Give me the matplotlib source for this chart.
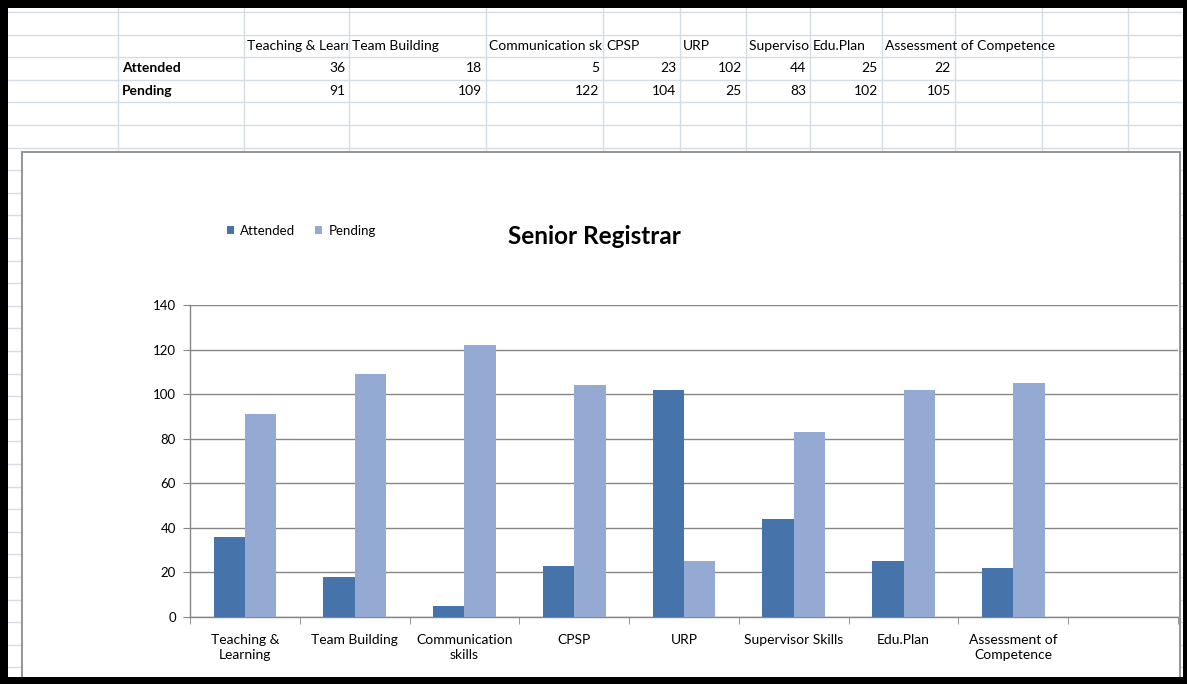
import numpy as np
import matplotlib
matplotlib.use("Agg")
import matplotlib.pyplot as plt
from matplotlib.patches import Rectangle
from matplotlib.transforms import Bbox, TransformedBbox

plt.rcParams['font.family'] = ['Lato', 'DejaVu Sans']

# data
categories = ['Teaching &\nLearning', 'Team Building', 'Communication\nskills', 'CPSP',
              'URP', 'Supervisor Skills', 'Edu.Plan', 'Assessment of\nCompetence']
series_names = ['Attended', 'Pending']
attended = [36, 18, 5, 23, 102, 44, 25, 22]
pending = [91, 109, 122, 104, 25, 83, 102, 105]

W, H = 1187, 684
DARK = '#4673A9'
LIGHT = '#94AAD2'
GRID = '#868686'
SHEET = '#D4DCE8'

fig = plt.figure(figsize=(W / 100, H / 100), dpi=100)

# spreadsheet behind the chart, drawn in pixel coords
bg = fig.add_axes([0, 0, 1, 1])
bg.set_xlim(0, W)
bg.set_ylim(H, 0)
bg.axis('off')

col_edges = [118, 244, 349, 486, 603, 680, 746, 810, 882, 955, 1042, 1128]
row_edges = np.arange(12, H, 22.6)
for y in row_edges:
    bg.plot([0, W], [y, y], color=SHEET, lw=1, zorder=1)
for x in col_edges:
    bg.plot([x, x], [0, H], color=SHEET, lw=1, zorder=1)

header_y, att_y, pen_y = 46, 68.5, 91
cell_fs = 10
bg.text(122, att_y, series_names[0], fontsize=cell_fs, fontweight='bold', va='center', zorder=2)
bg.text(122, pen_y, series_names[1], fontsize=cell_fs, fontweight='bold', va='center', zorder=2)
for i, cat in enumerate(categories):
    left, right = col_edges[i + 1], col_edges[i + 2]
    t = bg.text(left + 3, header_y, cat.replace('\n', ' '), fontsize=cell_fs,
                va='center', zorder=2)
    t.set_clip_path(None)
    if i < len(categories) - 1:
        # excel cuts a header off where the next cell holds text
        box = Bbox.from_extents(left / W, 1 - (header_y + 12) / H,
                                (right - 1) / W, 1 - (header_y - 12) / H)
        t.set_clip_box(TransformedBbox(box, fig.transFigure))
        t.set_clip_on(True)
    else:
        t.set_clip_on(False)
    bg.text(right - 4, att_y, str(attended[i]), fontsize=cell_fs, ha='right', va='center', zorder=2)
    bg.text(right - 4, pen_y, str(pending[i]), fontsize=cell_fs, ha='right', va='center', zorder=2)

# chart area
bg.add_patch(Rectangle((22, 152), 1158, 600, facecolor='white', edgecolor='#8C8C8C',
                       lw=1.3, zorder=3))

# black frame of the screenshot
for r in [(0, 0, W, 8), (0, 0, 8, H), (1183, 0, 4, H), (0, 677, W, 7)]:
    bg.add_patch(Rectangle(r[:2], r[2], r[3], facecolor='black', edgecolor='none', zorder=10))

# chart
ax = fig.add_axes([190 / W, 1 - 617 / H, 988 / W, 312 / H])
ax.patch.set_alpha(0)

x = np.arange(len(categories))
w = 1 / 3.5
ax.bar(x - w / 2, attended, w, color=DARK, label=series_names[0], zorder=3)
ax.bar(x + w / 2, pending, w, color=LIGHT, label=series_names[1], zorder=3)

ax.set_xlim(-0.5, len(categories) + 0.5)
ax.set_ylim(0, 140)
ax.set_yticks(np.arange(0, 141, 20))
ax.yaxis.grid(True, color=GRID, lw=1)
ax.set_axisbelow(True)
for s in ['top', 'right']:
    ax.spines[s].set_visible(False)
for s in ['left', 'bottom']:
    ax.spines[s].set_color(GRID)
    ax.spines[s].set_linewidth(1)

ax.set_xticks(x)
ax.set_xticklabels(categories, fontsize=10, linespacing=1.35)
ax.set_xticks(np.arange(-0.5, len(categories) + 1), minor=True)
ax.tick_params(axis='x', which='major', length=0, pad=12)
ax.tick_params(axis='x', which='minor', length=5, color=GRID, direction='out')
ax.tick_params(axis='y', length=5, color=GRID, pad=5, labelsize=9.5)

fig.text(594 / W, 1 - 236 / H, 'Senior Registrar', fontsize=17.5, fontweight='bold',
         ha='center', va='center')

fig.legend(loc='center left', bbox_to_anchor=(227 / W, 1 - 231 / H), ncol=2,
           frameon=False, fontsize=9.5, handlelength=0.55, handleheight=0.55,
           handletextpad=0.45, columnspacing=1.5, borderpad=0, borderaxespad=0)

fig.savefig('out.png', dpi=100)
